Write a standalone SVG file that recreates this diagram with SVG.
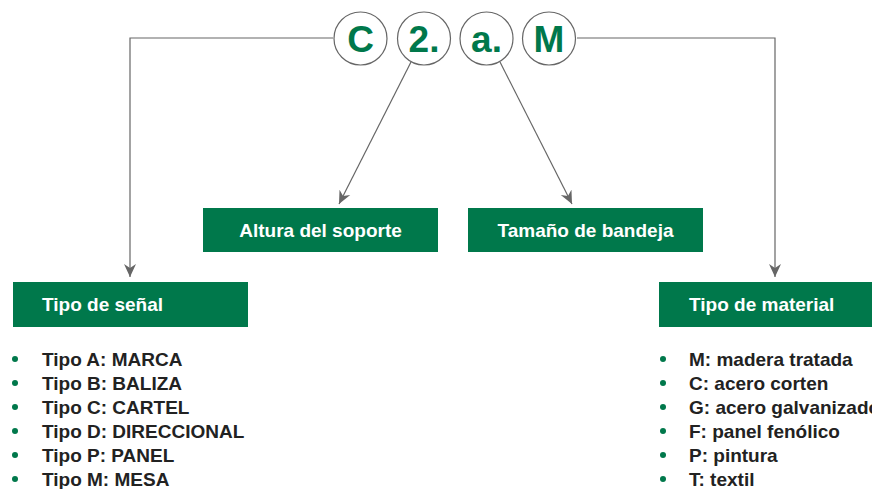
<svg xmlns="http://www.w3.org/2000/svg" width="872" height="489" viewBox="0 0 872 489">
<style>
.circ{fill:#fff;stroke:#666;stroke-width:1.2}
.ct{font-family:"Liberation Sans",Arial,sans-serif;font-weight:bold;font-size:37px;fill:#00784b;text-anchor:middle}
.box{fill:#00784b}
.bt{font-family:"Liberation Sans",Arial,sans-serif;font-weight:bold;font-size:19px;fill:#fff}
.li{font-family:"Liberation Sans",Arial,sans-serif;font-weight:bold;font-size:19px;fill:#222}
.dot{fill:#00784b}
.conn{fill:none;stroke:#666;stroke-width:1.2}
</style>
<defs>
<marker id="ah" viewBox="0 0 14 14" refX="13" refY="7" markerWidth="14" markerHeight="14" markerUnits="userSpaceOnUse" orient="auto">
<path d="M0,1 L13,7 L0,13 L4,7 Z" fill="#666"/>
</marker>
</defs>
<g id="connectors">
<path class="conn" d="M333,38 H130 V277" marker-end="url(#ah)"/>
<path class="conn" d="M577,38 H775 V277" marker-end="url(#ah)"/>
<path class="conn" d="M411,62 L339,204" marker-end="url(#ah)"/>
<path class="conn" d="M500,62 L572,204" marker-end="url(#ah)"/>
</g>
<g id="code-C"><circle class="circ" cx="360.5" cy="38.5" r="26.5"/><text class="ct" x="360.5" y="52">C</text></g>
<g id="code-2"><circle class="circ" cx="424" cy="38.5" r="26.5"/><text class="ct" x="424" y="52">2.</text></g>
<g id="code-a"><circle class="circ" cx="486.5" cy="38.5" r="26.5"/><text class="ct" x="486.5" y="52">a.</text></g>
<g id="code-M"><circle class="circ" cx="549" cy="38.5" r="26.5"/><text class="ct" x="549" y="52">M</text></g>
<g id="altura"><rect class="box" x="203" y="208" width="235" height="44"/><text class="bt" x="320.5" y="237" text-anchor="middle">Altura del soporte</text></g>
<g id="tamano"><rect class="box" x="468" y="208" width="235" height="44"/><text class="bt" x="585.5" y="237" text-anchor="middle">Tamaño de bandeja</text></g>
<g id="tipo-senal">
<rect class="box" x="13" y="282" width="235" height="45"/><text class="bt" x="42" y="311">Tipo de señal</text>
<circle class="dot" cx="15" cy="359" r="3"/><text class="li" x="42" y="366">Tipo A: MARCA</text>
<circle class="dot" cx="15" cy="383" r="3"/><text class="li" x="42" y="390">Tipo B: BALIZA</text>
<circle class="dot" cx="15" cy="407" r="3"/><text class="li" x="42" y="414">Tipo C: CARTEL</text>
<circle class="dot" cx="15" cy="431" r="3"/><text class="li" x="42" y="438">Tipo D: DIRECCIONAL</text>
<circle class="dot" cx="15" cy="455" r="3"/><text class="li" x="42" y="462">Tipo P: PANEL</text>
<circle class="dot" cx="15" cy="479" r="3"/><text class="li" x="42" y="486">Tipo M: MESA</text>
</g>
<g id="tipo-material">
<rect class="box" x="659" y="282" width="213" height="45"/><text class="bt" x="689" y="311">Tipo de material</text>
<circle class="dot" cx="663" cy="359" r="3"/><text class="li" x="689" y="366">M: madera tratada</text>
<circle class="dot" cx="663" cy="383" r="3"/><text class="li" x="689" y="390">C: acero corten</text>
<circle class="dot" cx="663" cy="407" r="3"/><text class="li" x="689" y="414">G: acero galvanizado</text>
<circle class="dot" cx="663" cy="431" r="3"/><text class="li" x="689" y="438">F: panel fenólico</text>
<circle class="dot" cx="663" cy="455" r="3"/><text class="li" x="689" y="462">P: pintura</text>
<circle class="dot" cx="663" cy="479" r="3"/><text class="li" x="689" y="486">T: textil</text>
</g>
</svg>
